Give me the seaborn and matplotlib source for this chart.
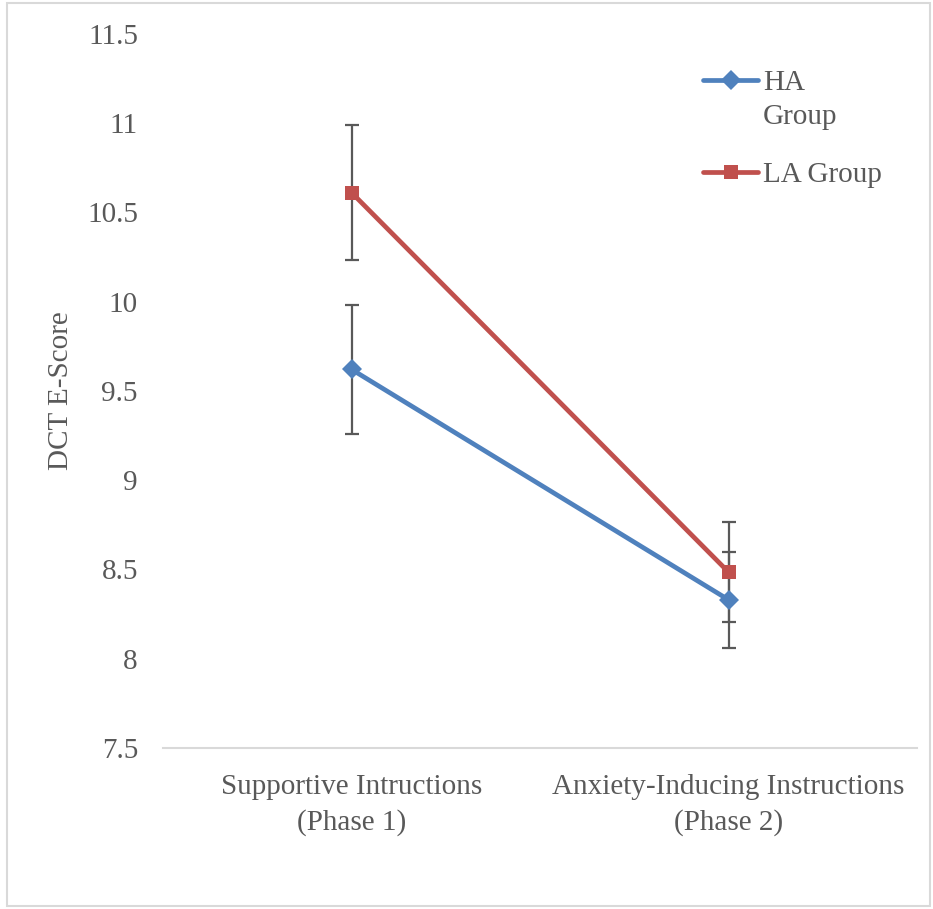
import matplotlib
matplotlib.use("Agg")
import matplotlib.pyplot as plt
import seaborn as sns
import pandas as pd
from matplotlib.patches import Rectangle

categories = ["Supportive Intructions\n(Phase 1)", "Anxiety-Inducing Instructions\n(Phase 2)"]
ha_values = [9.62, 8.33]
ha_errors = [0.36, 0.27]
la_values = [10.61, 8.485]
la_errors = [0.38, 0.28]
group_names = ["HA\nGroup", "LA Group"]
y_ticks = [7.5, 8, 8.5, 9, 9.5, 10, 10.5, 11, 11.5]
y_tick_labels = ["7.5", "8", "8.5", "9", "9.5", "10", "10.5", "11", "11.5"]

sns.set_style("white")
plt.rcParams["font.family"] = ["Liberation Serif", "DejaVu Serif"]

df = pd.DataFrame({
    "phase": categories * 2,
    "score": ha_values + la_values,
    "group": [group_names[0]] * 2 + [group_names[1]] * 2,
})

W, H = 933, 909
FS = 21
fig = plt.figure(figsize=(W / 100, H / 100), dpi=100)
ax = fig.add_axes([163 / W, 1 - 748 / H, (917 - 163) / W, (748 - 33.6) / H])

blue = "#4F81BD"
red = "#C0504D"
grey = "#595959"

for vals, errs in [(ha_values, ha_errors), (la_values, la_errors)]:
    ax.errorbar([0, 1], vals, yerr=errs, fmt="none", ecolor=grey, elinewidth=1.6,
                capsize=5, capthick=1.6, zorder=1)

sns.lineplot(data=df, x="phase", y="score", hue="group", style="group",
             palette={group_names[0]: blue, group_names[1]: red},
             markers={group_names[0]: "D", group_names[1]: "s"},
             dashes=False, linewidth=3.4, markersize=10.5, markeredgewidth=0,
             sort=False, ax=ax, zorder=3)

ax.set_xlim(-0.5, 1.5)
ax.set_ylim(7.5, 11.5)
ax.set_yticks(y_ticks)
ax.set_yticklabels(y_tick_labels)
ax.tick_params(axis="both", length=0, labelsize=FS, colors=grey)
ax.tick_params(axis="x", pad=19)
ax.tick_params(axis="y", pad=18)
ax.set_xlabel("")
ax.set_ylabel("DCT E-Score", fontsize=FS, color=grey, labelpad=9)
for s in ["top", "right", "left"]:
    ax.spines[s].set_visible(False)
ax.spines["bottom"].set_color("#D9D9D9")
ax.spines["bottom"].set_linewidth(1.5)
ax.grid(False)

leg = ax.legend(title=None, loc="upper left", bbox_to_anchor=(703 / W, 1 - 70 / H),
                bbox_transform=fig.transFigure, borderpad=0, borderaxespad=0,
                frameon=False, fontsize=FS, handlelength=1.9, handletextpad=0.15,
                labelspacing=1.1, labelcolor=grey)
for t in leg.get_texts():
    t.set_linespacing(1.38)
try:
    col = leg._legend_handle_box.get_children()[0]
    for hp in col.get_children():
        hp.align = "top"
except Exception:
    pass

fig.canvas.draw()
for lab in ax.get_xticklabels():
    lab.set_linespacing(1.42)

fig.patches.append(Rectangle((7 / W, 3 / H), (W - 10) / W, (H - 6) / H,
                             transform=fig.transFigure, fill=False,
                             edgecolor="#D9D9D9", linewidth=1.5))

fig.savefig("out.png", dpi=100)
